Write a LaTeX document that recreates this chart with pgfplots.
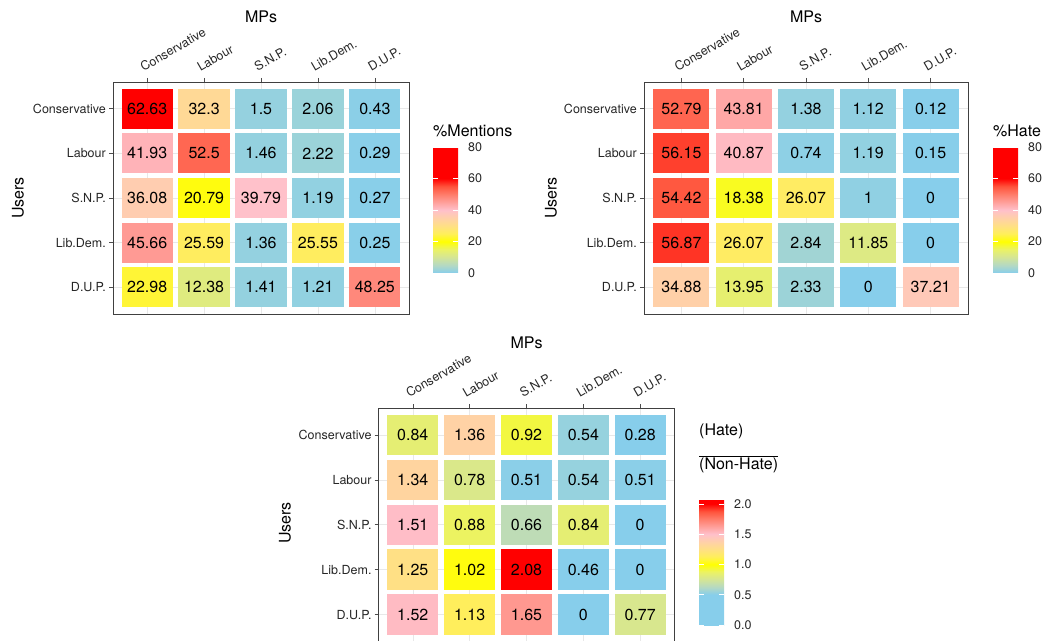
\documentclass[border=0pt]{standalone}
\usepackage{pgfplots}
\usepackage{pgfplotstable}
\pgfplotsset{compat=1.18}
\usepackage{fontspec}
\setmainfont{TeX Gyre Heros}
\pgfkeys{/pgf/number format/assume math mode=true}

\newcommand\ticklab{\fontsize{12.5}{14}\selectfont}
\newcommand\vallab{\fontsize{16}{18}\selectfont}
\newcommand\titlef{\fontsize{16}{18}\selectfont}

% tile size (set before each axis)
\newdimen\tilew \newdimen\tileh \newdimen\tilehw \newdimen\tilehh
\newcommand\settile[2]{\global\tilew=#1\global\tileh=#2%
  \global\tilehw=0.5\tilew \global\tilehh=0.5\tileh}
\pgfdeclareplotmark{tile}{%
  \pgfpathrectangle{\pgfpoint{-\tilehw}{-\tilehh}}{\pgfpoint{\tilew}{\tileh}}%
  \pgfusepathqfill}

% skyblue -> yellow -> pink -> red, with intermediate stops blended in Lab space
\pgfplotsset{
  colormap={pctcm}{rgb255(0pt)=(135,206,235); rgb255(5pt)=(181,217,194);
    rgb255(10pt)=(212,229,150); rgb255(15pt)=(235,242,101);
    rgb255(20pt)=(255,255,0); rgb255(25pt)=(255,239,90);
    rgb255(30pt)=(255,224,133); rgb255(35pt)=(255,208,169);
    rgb255(40pt)=(255,192,203); rgb255(45pt)=(255,159,154);
    rgb255(50pt)=(255,124,106); rgb255(55pt)=(255,83,59);
    rgb255(60pt)=(255,0,0); rgb255(80pt)=(255,0,0)},
  colormap={ratiocm}{rgb255(0pt)=(135,206,235); rgb255(50pt)=(135,206,235);
    rgb255(62.5pt)=(181,217,194); rgb255(75pt)=(212,229,150);
    rgb255(87.5pt)=(235,242,101); rgb255(100pt)=(255,255,0);
    rgb255(112.5pt)=(255,239,90); rgb255(125pt)=(255,224,133);
    rgb255(137.5pt)=(255,208,169); rgb255(150pt)=(255,192,203);
    rgb255(162.5pt)=(255,159,154); rgb255(175pt)=(255,124,106);
    rgb255(187.5pt)=(255,83,59); rgb255(200pt)=(255,0,0);
    rgb255(208pt)=(255,0,0)},
  heat/.style={
    scale only axis,
    xmin=-0.6, xmax=4.6, ymin=-0.6, ymax=4.6, y dir=reverse,
    xtick={0,...,4}, ytick={0,...,4},
    xticklabels={Conservative,Labour,S.N.P.,Lib.Dem.,D.U.P.},
    yticklabels={Conservative,Labour,S.N.P.,Lib.Dem.,D.U.P.},
    xtick pos=right, xticklabel pos=right, ytick pos=left,
    tick align=outside, major tick length=4pt,
    tick style={black!70, line width=0.6pt},
    grid=major, grid style={line width=0.6pt, color=black!9},
    axis line style={black!75, line width=0.8pt},
    ticklabel style={font=\ticklab, text=black!85},
    xticklabel style={xshift=-3.4pt, yshift=6pt, rotate=30, anchor=south west, inner sep=0pt},
    yticklabel style={inner sep=0pt, xshift=-3pt},
    colorbar, colorbar/width=25pt, colorbar shift/.style={},
  },
  cbar/.style={
    anchor=south west, width=25pt, height=126pt, scale only axis,
    axis line style={draw=none},
    xtick=\empty,
    ytick pos=both, yticklabel pos=right,
    tick align=inside, major tick length=5pt,
    ytick style={white, line width=0.6pt},
    ticklabel style={font=\ticklab},
    yticklabel style={font=\ticklab, text=black!85, inner sep=0pt, xshift=10pt, anchor=west},
  },
  tiles/.style={scatter, only marks, mark=tile, point meta=explicit,
    scatter/use mapped color={fill=mapped color, draw=none}},
  vals/.style={draw=none, mark=none, point meta=explicit,
    nodes near coords={\pgfmathprintnumber[fixed,precision=2]{\pgfplotspointmeta}},
    nodes near coords align=center,
    every node near coord/.append style={anchor=center, text=black, font=\vallab}},
}

\pgfplotstableread{
x y v
0 0 62.63
1 0 32.3
2 0 1.5
3 0 2.06
4 0 0.43
0 1 41.93
1 1 52.5
2 1 1.46
3 1 2.22
4 1 0.29
0 2 36.08
1 2 20.79
2 2 39.79
3 2 1.19
4 2 0.27
0 3 45.66
1 3 25.59
2 3 1.36
3 3 25.55
4 3 0.25
0 4 22.98
1 4 12.38
2 4 1.41
3 4 1.21
4 4 48.25
}\mentions

\pgfplotstableread{
x y v
0 0 52.79
1 0 43.81
2 0 1.38
3 0 1.12
4 0 0.12
0 1 56.15
1 1 40.87
2 1 0.74
3 1 1.19
4 1 0.15
0 2 54.42
1 2 18.38
2 2 26.07
3 2 1
4 2 0
0 3 56.87
1 3 26.07
2 3 2.84
3 3 11.85
4 3 0
0 4 34.88
1 4 13.95
2 4 2.33
3 4 0
4 4 37.21
}\hate

\pgfplotstableread{
x y v
0 0 0.84
1 0 1.36
2 0 0.92
3 0 0.54
4 0 0.28
0 1 1.34
1 1 0.78
2 1 0.51
3 1 0.54
4 1 0.51
0 2 1.51
1 2 0.88
2 2 0.66
3 2 0.84
4 2 0
0 3 1.25
1 3 1.02
2 3 2.08
3 3 0.46
4 3 0
0 4 1.52
1 4 1.13
2 4 1.65
3 4 0
4 4 0.77
}\ratio

\begin{document}
\begin{tikzpicture}
\useasboundingbox (0,0) rectangle (1046pt,640pt);

% %Mentions
\settile{51.23pt}{40.15pt}
\begin{axis}[heat, at={(113pt,326pt)}, anchor=south west,
  width=296pt, height=232pt,
  colormap name=pctcm, point meta min=0, point meta max=80,
  colorbar style={cbar, at={(433pt,367pt)}, ytick={0,20,...,80}}]
  \addplot[tiles] table[x=x, y=y, meta=v] {\mentions};
  \addplot[vals] table[x=x, y=y, meta=v] {\mentions};
\end{axis}

% %Hate
\settile{56.08pt}{40.15pt}
\begin{axis}[heat, at={(644pt,326pt)}, anchor=south west,
  width=324pt, height=232pt,
  colormap name=pctcm, point meta min=0, point meta max=80,
  colorbar style={cbar, at={(993pt,367pt)}, ytick={0,20,...,80}}]
  \addplot[tiles] table[x=x, y=y, meta=v] {\hate};
  \addplot[vals] table[x=x, y=y, meta=v] {\hate};
\end{axis}

% Hate / Non-Hate ratio
\settile{51.16pt}{40.41pt}
\begin{axis}[heat, at={(378.7pt,-1.5pt)}, anchor=south west,
  width=295.6pt, height=233.5pt,
  colormap name=ratiocm, point meta min=0, point meta max=2.08,
  colorbar style={cbar, at={(699pt,15pt)}, ytick={0,0.5,...,2},
    yticklabel style={/pgf/number format/.cd, fixed, fixed zerofill, precision=1}}]
  \addplot[tiles] table[x=x, y=y, meta=v] {\ratio};
  \addplot[vals] table[x=x, y=y, meta=v] {\ratio};
\end{axis}

% axis titles
\node[font=\titlef] at (261pt,623pt) {MPs};
\node[font=\titlef] at (806pt,623pt) {MPs};
\node[font=\titlef] at (526.5pt,297pt) {MPs};
\node[font=\titlef, rotate=90] at (18pt,442pt) {Users};
\node[font=\titlef, rotate=90] at (551pt,442pt) {Users};
\node[font=\titlef, rotate=90] at (285pt,117pt) {Users};

% colour scale titles
\node[font=\titlef, anchor=west, inner sep=0pt] at (433pt,509pt) {\%Mentions};
\node[font=\titlef, anchor=west, inner sep=0pt] at (993pt,509pt) {\%Hate};
\node[font=\titlef, anchor=west, inner sep=0pt] at (699pt,209pt) {(Hate)};
\draw[black, line width=0.6pt] (699pt,184pt) -- (778pt,184pt);
\node[font=\titlef, anchor=west, inner sep=0pt] at (699pt,174.3pt) {(Non-Hate)};
\end{tikzpicture}
\end{document}
